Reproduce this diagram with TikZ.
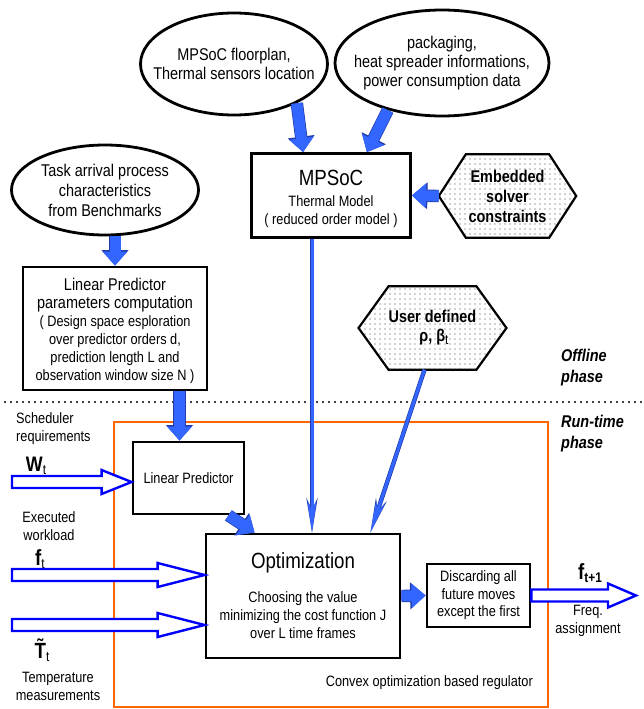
\documentclass[tikz,border=0pt]{standalone}
\usepackage{fontspec}
\setmainfont[FakeStretch=0.85]{Liberation Sans}
\usetikzlibrary{shapes.geometric, arrows.meta, patterns.meta, calc, backgrounds}

\definecolor{fatblue}{RGB}{51,102,255}
\definecolor{fatedge}{RGB}{35,60,170}
\definecolor{hollowblue}{RGB}{0,0,255}
\definecolor{regorange}{RGB}{255,102,0}

\newcommand{\bigtxt}{\fontsize{17}{19}\selectfont}
\newcommand{\smalltxt}{\fontsize{15}{18}\selectfont}
\newcommand{\titletxt}{\fontsize{22}{26}\selectfont}
\newcommand{\lowsub}[1]{\raisebox{-0.15em}{\fontsize{14}{14}\selectfont #1}}

% horizontal hollow arrow: start, tip, head length
\newcommand{\hollowarrow}[3]{%
  \draw[hollow] let \p1=(#1), \p2=(#2) in
    (\x1,\y1+6pt) -- (\x2-#3,\y1+6pt) -- (\x2-#3,\y1+12pt) -- (\x2,\y1)
    -- (\x2-#3,\y1-12pt) -- (\x2-#3,\y1-6pt) -- (\x1,\y1-6pt) -- cycle;}

\tikzset{
  oval/.style={ellipse, draw, line width=2.8pt, align=center, inner xsep=-20pt, inner ysep=0pt, font=\bigtxt},
  box/.style={rectangle, draw, line width=2.8pt, align=center, inner sep=0pt},
  hextext/.style={rectangle, align=center, inner sep=0pt, font=\bigtxt\bfseries},
  hexfill/.style={draw, line width=2.2pt, fill=white,
    postaction={pattern={Dots[distance=5pt, radius=0.55pt]}, pattern color=black!75}},
  fat/.style={line width=11pt, draw=fatblue, -{Triangle[length=14pt, width=24pt]},
    preaction={draw=fatedge, line width=12.4pt, -{Triangle[length=15.5pt, width=26pt]}}},
  thin/.style={line width=3pt, draw=fatblue, -{Stealth[length=32pt, width=9pt]},
    preaction={draw=fatedge, line width=4.4pt, -{Stealth[length=34pt, width=11pt]}}},
  hollow/.style={draw=hollowblue, line width=2.4pt, fill=white, line join=miter},
  phase/.style={anchor=west, align=left, inner sep=0pt, font=\fontsize{17}{21}\selectfont\bfseries\itshape},
  lbl/.style={align=center, inner sep=0pt, font=\smalltxt},
}

\begin{document}
\begin{tikzpicture}[x=1pt, y=-1pt]
  \useasboundingbox (0,0) rectangle (643,709);

  % offline phase
  \node[oval, minimum width=187pt, minimum height=102pt] (flr) at (234,64) {MPSoC floorplan,\\Thermal sensors location};
  \node[oval, minimum width=214pt, minimum height=106pt] (pkg) at (442,63) {packaging,\\heat spreader informations,\\power consumption data};
  \node[oval, minimum width=187pt, minimum height=90pt, font=\fontsize{17}{20}\selectfont] (task) at (105,190) {Task arrival process\\characteristics\\from Benchmarks};
  \node[box, minimum width=159pt, minimum height=84pt, font=\smalltxt] (mpsoc) at (331,195.5) {\rule{0pt}{22pt}{\titletxt MPSoC}\\[3pt]Thermal Model\\( reduced order model )};
  \node[hextext, minimum width=83pt, minimum height=83pt, font=\fontsize{17}{20}\selectfont\bfseries] (emb) at (507.5,196) {Embedded\\solver\\constraints};
  \node[box, minimum width=184pt, minimum height=123pt, font=\smalltxt] (lpp) at (115,328.5) {\rule{0pt}{18pt}{\bigtxt Linear Predictor}\\{\bigtxt parameters computation}\\( Design space esploration\\over predictor orders d,\\prediction length L and\\observation window size N )};
  \node[hextext, minimum width=79pt, minimum height=83pt] (usr) at (432.5,328) {User defined\\$\,$ρ, β\lowsub{\mdseries t}};

  \begin{scope}[on background layer]
    \draw[hexfill] ([xshift=-27pt]emb.west) -- (emb.north west) -- (emb.north east) -- ([xshift=27pt]emb.east) -- (emb.south east) -- (emb.south west) -- cycle;
    \draw[hexfill] ([xshift=-30pt]usr.west) -- (usr.north west) -- (usr.north east) -- ([xshift=30pt]usr.east) -- (usr.south east) -- (usr.south west) -- cycle;
  \end{scope}

  \node[phase] (offl) at (561,367.5) {Offline\\phase};
  \draw[line width=2.4pt, line cap=round, dash pattern=on 0pt off 6pt] (5,402) -- (643,402);
  \node[phase] (runt) at (561,434) {Run-time\\phase};

  % run-time phase
  \draw[regorange, line width=2.5pt] (114,422) rectangle (548,707);
  \node[box, minimum width=111pt, minimum height=72pt, font=\smalltxt] (lp) at (188.5,478) {Linear Predictor};
  \node[box, minimum width=194pt, minimum height=124pt, font=\smalltxt] (opt) at (303,596) {{\titletxt Optimization}\\[16pt]Choosing the value\\minimizing the cost function J\\over L time frames};
  \node[box, minimum width=103pt, minimum height=63pt, font=\fontsize{15}{17.5}\selectfont] (disc) at (478.5,595.5) {Discarding all\\future moves\\except the first};
  \node[lbl, anchor=east] (conv) at (533,683) {Convex optimization based regulator};

  % inputs and output
  \node[lbl, anchor=west, align=left] (sched) at (16,429) {Scheduler\\requirements};
  \node[lbl, font=\fontsize{21}{21}\selectfont\bfseries] (wlbl) at (36,466) {W\lowsub{\mdseries t}};
  \node[lbl] (exec) at (49,526) {Executed\\workload};
  \node[lbl, font=\fontsize{22}{22}\selectfont\bfseries] (flbl) at (40,559) {f\lowsub{\mdseries t}};
  \node[lbl, font=\fontsize{22}{22}\selectfont\bfseries] (tlbl) at (42,650) {\~{T}\lowsub{\mdseries t}};
  \node[lbl] (temp) at (58,686) {Temperature\\measurements};
  \node[lbl, font=\fontsize{22}{22}\selectfont\bfseries] (fout) at (590,573) {f\lowsub{t+1}};
  \node[lbl] (freq) at (588,621) {Freq.\\assignment};

  \coordinate (win) at (12,482);
  \coordinate (fin) at (12,575);
  \coordinate (tin) at (12,625);
  \coordinate (fend) at (636,596);
  \hollowarrow{win}{lp.west}{30pt}
  \hollowarrow{fin}{opt.west}{47pt}
  \hollowarrow{tin}{opt.west}{47pt}
  \hollowarrow{disc.east}{fend}{28pt}

  % block arrows
  \draw[fat] (flr.-32) -- ([xshift=53pt]mpsoc.north west);
  \draw[fat] (pkg.-139) -- ([xshift=-45pt]mpsoc.north east);
  \draw[fat] ([xshift=-27pt]emb.west) -- (mpsoc.east);
  \draw[fat] (lpp.north |- task.south) -- (lpp.north);
  \draw[fat] ([xshift=-9pt]lp.north |- lpp.south) -- ([xshift=-9pt]lp.north);
  \draw[fat] ([xshift=-17pt]lp.south east) -- ([xshift=50pt]opt.north west);
  \draw[fat] (opt.east) -- (disc.west);
  \draw[thin] ([xshift=-19pt]mpsoc.south) -- ([xshift=-19pt]mpsoc.south |- opt.north);
  \draw[thin] ([xshift=-8pt]usr.south) -- ([xshift=-31pt]opt.north east);
\end{tikzpicture}
\end{document}
